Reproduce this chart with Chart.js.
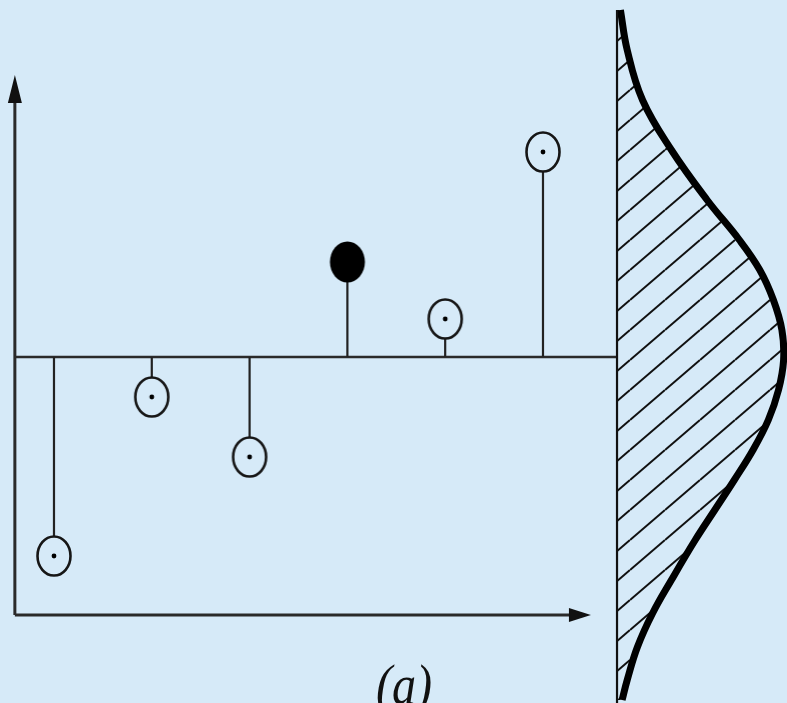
<!DOCTYPE html>
<html>
<head>
<meta charset="utf-8">
<title>Residuals</title>
<script src="https://cdn.jsdelivr.net/npm/chart.js@4.4.0/dist/chart.umd.min.js"></script>
<style>
  html, body { margin: 0; padding: 0; background: #d6eaf8; overflow: hidden; }
  #wrap { position: relative; width: 787px; height: 703px; }
  #caption {
    position: absolute; left: 304px; top: 651px; width: 200px;
    text-align: center; line-height: 58px;
    font: italic 58px "Liberation Serif", "DejaVu Serif", serif;
    color: #111; transform: scaleX(0.83); transform-origin: center;
  }
</style>
</head>
<body>
<div id="wrap">
  <canvas id="myChart"></canvas>
  <div id="caption">(a)</div>
</div>
<script>
'use strict';

let bg = '#d6eaf8';

// sample positions and their deviations from the fitted line
let samples = [1, 2, 3, 4, 5, 6];
let residuals = [-1.99, -0.40, -1.00, 0.95, 0.38, 2.05];
let highlighted = 3; // index of the solid point

// error distribution drawn on the right: position -> density
let curvePos = [3.47, 3.07, 2.57, 2.07, 1.57, 1.17, 0.87, 0.57, 0.27, -0.03,
    -0.33, -0.63, -0.93, -1.23, -1.53, -1.83, -2.23, -2.56, -2.90, -3.23, -3.43];
let curveDensity = [0.02, 0.06, 0.15, 0.32, 0.53, 0.72, 0.84, 0.92, 0.97, 0.98,
    0.95, 0.89, 0.80, 0.69, 0.575, 0.46, 0.32, 0.21, 0.12, 0.06, 0.03];

function makeMarker(filled) {
    let c = document.createElement('canvas');
    c.width = 40;
    c.height = 46;
    let g = c.getContext('2d');
    g.beginPath();
    if (filled) {
        g.ellipse(20, 23, 17.5, 20.5, 0, 0, Math.PI * 2);
        g.fillStyle = '#000';
        g.fill();
    } else {
        g.ellipse(20, 23, 16.5, 19.5, 0, 0, Math.PI * 2);
        g.fillStyle = bg;
        g.fill();
        g.lineWidth = 2.6;
        g.strokeStyle = '#161616';
        g.stroke();
        g.beginPath();
        g.arc(20, 23, 2.4, 0, Math.PI * 2);
        g.fillStyle = '#000';
        g.fill();
    }
    return c;
}

function makeHatch() {
    let w = 35, h = 30;
    let c = document.createElement('canvas');
    c.width = w;
    c.height = h;
    let g = c.getContext('2d');
    g.strokeStyle = '#111';
    g.lineWidth = 2;
    for (let off of [-h, 0, h]) {
        g.beginPath();
        g.moveTo(0, h + off);
        g.lineTo(w, off);
        g.stroke();
    }
    return g.createPattern(c, 'repeat');
}

let openPoints = [];
let solidPoints = [];
for (let i = 0; i < samples.length; i++) {
    let p = { x: samples[i], y: residuals[i] };
    if (i === highlighted) solidPoints.push(p);
    else openPoints.push(p);
}

let curvePoints = [];
for (let i = 0; i < curvePos.length; i++) {
    curvePoints.push({ x: curveDensity[i], y: curvePos[i] });
}

// axes, zero line and stems
let framePlugin = {
    id: 'frame',
    beforeDatasetsDraw(chart) {
        let ctx = chart.ctx;
        let sx = chart.scales.x, sy = chart.scales.y, sd = chart.scales.xd;
        let ax = sx.getPixelForValue(0.6);
        let ay = sy.getPixelForValue(-2.58);
        let zero = sy.getPixelForValue(0);
        let edge = sd.getPixelForValue(0);
        let yTip = sy.getPixelForValue(2.82);
        let xTip = sx.getPixelForValue(6.49);

        ctx.save();
        ctx.strokeStyle = '#2a2a2a';
        ctx.fillStyle = '#111';
        ctx.lineWidth = 3;
        ctx.beginPath();
        ctx.moveTo(ax, ay);
        ctx.lineTo(ax, yTip + 26);
        ctx.moveTo(ax, ay);
        ctx.lineTo(xTip - 18, ay);
        ctx.stroke();

        ctx.beginPath();
        ctx.moveTo(ax, yTip);
        ctx.lineTo(ax - 7, yTip + 28);
        ctx.lineTo(ax + 7, yTip + 28);
        ctx.closePath();
        ctx.fill();
        ctx.beginPath();
        ctx.moveTo(xTip, ay);
        ctx.lineTo(xTip - 22, ay - 7);
        ctx.lineTo(xTip - 22, ay + 7);
        ctx.closePath();
        ctx.fill();

        ctx.lineWidth = 2.5;
        ctx.beginPath();
        ctx.moveTo(ax, zero);
        ctx.lineTo(edge, zero);
        ctx.stroke();

        ctx.lineWidth = 2.2;
        ctx.strokeStyle = '#222';
        chart.data.datasets.forEach(function (ds, i) {
            if (!ds.stems) return;
            chart.getDatasetMeta(i).data.forEach(function (pt) {
                ctx.beginPath();
                ctx.moveTo(pt.x, zero);
                ctx.lineTo(pt.x, pt.y);
                ctx.stroke();
            });
        });
        ctx.restore();
    },
    afterDatasetsDraw(chart) {
        let ctx = chart.ctx;
        let edge = chart.scales.xd.getPixelForValue(0);
        ctx.save();
        ctx.strokeStyle = '#111';
        ctx.lineWidth = 2.2;
        ctx.beginPath();
        ctx.moveTo(edge, chart.scales.y.getPixelForValue(3.47));
        ctx.lineTo(edge, chart.chartArea.bottom);
        ctx.stroke();
        ctx.restore();
    }
};

let ctx = document.getElementById('myChart').getContext('2d');
let chart = new Chart(ctx, {
    type: 'scatter',
    data: {
        datasets: [{
            type: 'line',
            indexAxis: 'y',
            xAxisID: 'xd',
            data: curvePoints,
            borderColor: '#000',
            borderWidth: 7,
            borderCapStyle: 'butt',
            tension: 0.4,
            capBezierPoints: false,
            pointRadius: 0,
            fill: { value: 0 },
            backgroundColor: makeHatch(),
            clip: false,
            order: 3
        },
        {
            data: openPoints,
            stems: true,
            pointStyle: makeMarker(false),
            pointRadius: 10,
            order: 2
        },
        {
            data: solidPoints,
            stems: true,
            pointStyle: makeMarker(true),
            pointRadius: 10,
            order: 1
        }]
    },
    options: {
        responsive: true,
        maintainAspectRatio: false,
        animation: false,
        layout: { padding: 0, autoPadding: false },
        plugins: { legend: { display: false }, tooltip: { enabled: false } },
        scales: {
            x: { type: 'linear', min: 0.448, max: 8.495, display: false },
            xd: { type: 'linear', min: -3.63, max: 1, display: false },
            y: { type: 'linear', min: -3.46, max: 3.57, display: false }
        }
    },
    plugins: [framePlugin]
});
</script>
</body>
</html>
